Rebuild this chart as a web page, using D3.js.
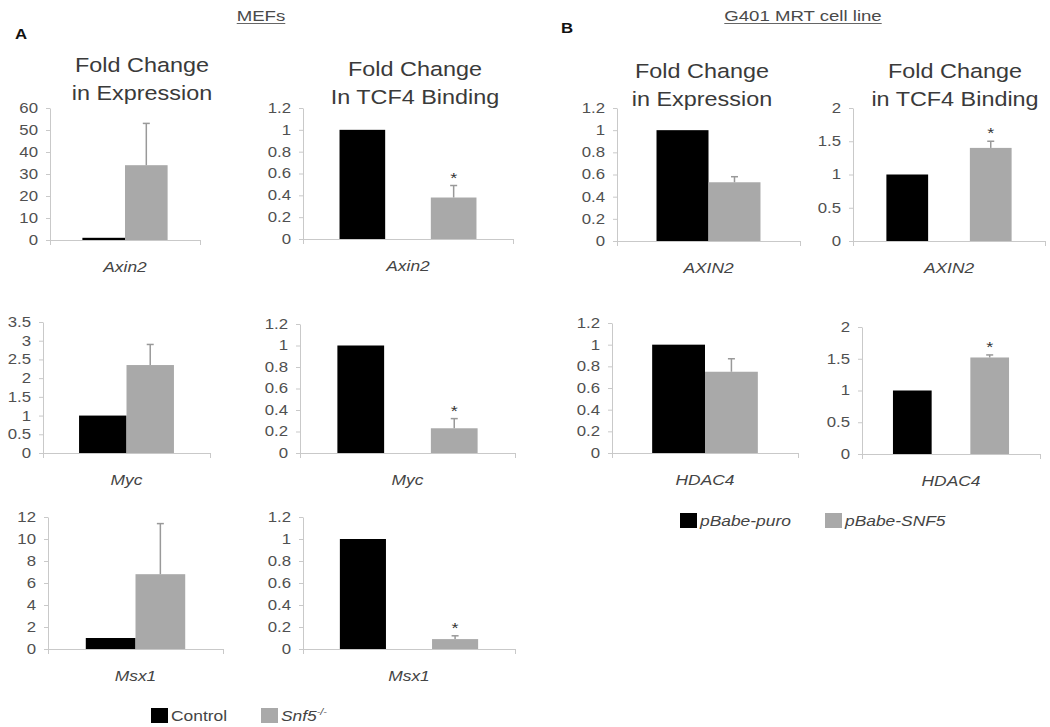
<!DOCTYPE html>
<html>
<head>
<meta charset="utf-8">
<script src="https://cdn.jsdelivr.net/npm/d3@7"></script>
<style>
  html, body { margin: 0; padding: 0; background: #fff; }
  svg { display: block; font-family: "Liberation Sans", Arial, sans-serif; }
</style>
</head>
<body>
<svg id="chart" width="1050" height="727"></svg>
<script>
// ---------- DATA ----------
const mefGenes = ["Axin2", "Myc", "Msx1"];
const mefExprControl = [1, 1, 1];
const mefExprSnf5 = [34, 2.35, 6.8];
const mefExprSnf5Err = [19, 0.55, 4.6];
const mefExprTickMax = [60, 3.5, 12];
const mefExprTickStep = [10, 0.5, 2];

const mefTcfControl = [1, 1, 1];
const mefTcfSnf5 = [0.38, 0.23, 0.09];
const mefTcfSnf5Err = [0.11, 0.09, 0.03];
const mefTcfSig = [true, true, true];
const mefTcfTickMax = [1.2, 1.2, 1.2];
const mefTcfTickStep = [0.2, 0.2, 0.2];

const g401Genes = ["AXIN2", "HDAC4"];
const g401ExprControl = [1, 1];
const g401ExprSnf5 = [0.53, 0.75];
const g401ExprSnf5Err = [0.05, 0.12];
const g401ExprTickMax = [1.2, 1.2];
const g401ExprTickStep = [0.2, 0.2];

const g401TcfControl = [1, 1];
const g401TcfSnf5 = [1.4, 1.52];
const g401TcfSnf5Err = [0.1, 0.04];
const g401TcfSig = [true, true];
const g401TcfTickMax = [2, 2];
const g401TcfTickStep = [0.5, 0.5];

const titleExpr = ["Fold Change", "in Expression"];
const titleTcfMef = ["Fold Change", "In TCF4 Binding"];
const titleTcfG401 = ["Fold Change", "in TCF4 Binding"];
const legendMef = ["Control", "Snf5"];
const legendG401 = ["pBabe-puro", "pBabe-SNF5"];

// ---------- STYLE ----------
const SX = 1.2;                  // horizontal stretch of the original figure's text
const BLACK = "#000000";
const GRAY = "#a9a9a9";
const AXIS = "#c9c9c9";
const TEXT = "#505050";

const svg = d3.select("#chart");

function txt(x, y, str, o = {}) {
  return svg.append("text")
    .attr("transform", `translate(${x},${y}) scale(${SX},1)`)
    .attr("text-anchor", o.anchor || "middle")
    .attr("font-size", o.size || 14)
    .attr("font-style", o.italic ? "italic" : null)
    .attr("font-weight", o.bold ? "bold" : null)
    .attr("fill", o.color || TEXT)
    .text(str);
}

function fmt(d) { return String(+d.toFixed(2)); }

function drawPanel(p) {
  const y = d3.scaleLinear().domain([0, p.max]).range([p.bot, p.top]);
  const x = d3.scaleBand().domain(["ctrl", "trt"]).range([p.x0, p.x1])
    .paddingInner(p.pi).paddingOuter(p.po);
  const bw = x.bandwidth();

  const g = svg.append("g");
  const ax = d3.axisLeft(y)
    .tickValues(d3.range(0, p.max + p.step / 2, p.step))
    .tickSize(4).tickSizeOuter(0).tickPadding(8).tickFormat(fmt);
  const axG = g.append("g").attr("transform", `translate(${p.x0},0)`).call(ax)
    .attr("font-size", 14).attr("font-family", null);
  axG.select(".domain").attr("stroke", AXIS);
  axG.selectAll(".tick line").attr("stroke", AXIS);
  axG.selectAll(".tick text").attr("fill", TEXT)
    .attr("x", -12 / SX).attr("transform", `scale(${SX},1)`);

  // category axis
  g.append("line").attr("x1", p.x0 - 4).attr("x2", p.x1).attr("y1", y(0) + 0.5).attr("y2", y(0) + 0.5)
    .attr("stroke", AXIS);
  [p.x0, p.x1].forEach(xx => g.append("line").attr("x1", xx + 0.5).attr("x2", xx + 0.5)
    .attr("y1", y(0)).attr("y2", y(0) + 5).attr("stroke", AXIS));

  const bars = [{ k: "ctrl", v: p.ctrl, c: BLACK }, { k: "trt", v: p.trt, c: GRAY }];
  g.selectAll("rect.bar").data(bars).enter().append("rect")
    .attr("x", d => x(d.k)).attr("width", bw)
    .attr("y", d => y(d.v)).attr("height", d => y(0) - y(d.v))
    .attr("fill", d => d.c);

  // error bar
  const cx = x("trt") + bw / 2;
  const eTop = y(p.trt + p.err);
  g.append("line").attr("x1", cx).attr("x2", cx).attr("y1", y(p.trt)).attr("y2", eTop)
    .attr("stroke", "#999").attr("stroke-width", 1.5);
  g.append("line").attr("x1", cx - 3.5).attr("x2", cx + 3.5).attr("y1", eTop).attr("y2", eTop)
    .attr("stroke", "#999").attr("stroke-width", 1.5);
  if (p.sig) {
    txt(cx, eTop - 3, "*", { size: 15, color: "#333" });
  }

  const mid = (x("ctrl") + x("trt") + bw) / 2;
  txt(mid, p.bot + 32, p.gene, { size: 14.5, italic: true, color: "#444" });

  if (p.title) {
    txt(p.tx, p.ty, p.title[0], { size: 19.5, color: "#3a3a3a" });
    txt(p.tx, p.ty + 28, p.title[1], { size: 19.5, color: "#3a3a3a" });
  }
}

const EXPR = { pi: 0, po: 0.76 };
const TCF = { pi: 0.5, po: 0.4 };

// MEF panels
const mefExprGeom = [
  { x0: 50, x1: 200, top: 108, bot: 240 },
  { x0: 43, x1: 210, top: 322, bot: 453 },
  { x0: 48, x1: 223, top: 517, bot: 649 }
];
const mefTcfGeom = [
  { x0: 303, x1: 513, top: 108, bot: 239 },
  { x0: 300, x1: 515, top: 324, bot: 453 },
  { x0: 303, x1: 515, top: 517, bot: 649 }
];
mefGenes.forEach((gene, i) => {
  drawPanel(Object.assign({}, EXPR, mefExprGeom[i], {
    max: mefExprTickMax[i], step: mefExprTickStep[i],
    ctrl: mefExprControl[i], trt: mefExprSnf5[i], err: mefExprSnf5Err[i],
    sig: false, gene,
    title: i === 0 ? titleExpr : null, tx: 142, ty: 72
  }));
  drawPanel(Object.assign({}, TCF, mefTcfGeom[i], {
    max: mefTcfTickMax[i], step: mefTcfTickStep[i],
    ctrl: mefTcfControl[i], trt: mefTcfSnf5[i], err: mefTcfSnf5Err[i],
    sig: mefTcfSig[i], gene,
    title: i === 0 ? titleTcfMef : null, tx: 415, ty: 76
  }));
});

// G401 panels
const g401ExprGeom = [
  { x0: 617, x1: 800, top: 108, bot: 241 },
  { x0: 612, x1: 798, top: 323, bot: 453 }
];
const g401TcfGeom = [
  { x0: 853, x1: 1045, top: 108, bot: 241 },
  { x0: 862, x1: 1040, top: 327, bot: 454 }
];
g401Genes.forEach((gene, i) => {
  drawPanel(Object.assign({}, EXPR, g401ExprGeom[i], {
    max: g401ExprTickMax[i], step: g401ExprTickStep[i],
    ctrl: g401ExprControl[i], trt: g401ExprSnf5[i], err: g401ExprSnf5Err[i],
    sig: false, gene,
    title: i === 0 ? titleExpr : null, tx: 702, ty: 78
  }));
  drawPanel(Object.assign({}, TCF, g401TcfGeom[i], {
    max: g401TcfTickMax[i], step: g401TcfTickStep[i],
    ctrl: g401TcfControl[i], trt: g401TcfSnf5[i], err: g401TcfSnf5Err[i],
    sig: g401TcfSig[i], gene,
    title: i === 0 ? titleTcfG401 : null, tx: 955, ty: 78
  }));
});

// headers
function header(cx, y, str) {
  const t = txt(cx, y, str, { size: 15.5, color: "#4a4a4a" });
  const w = t.node().getComputedTextLength() * SX;
  svg.append("line").attr("x1", cx - w / 2).attr("x2", cx + w / 2)
    .attr("y1", y + 2.5).attr("y2", y + 2.5).attr("stroke", "#666").attr("stroke-width", 1.2);
}
header(261, 21, "MEFs");
header(803, 21, "G401 MRT cell line");
txt(15, 39, "A", { size: 14, bold: true, anchor: "start", color: "#111" });
txt(561, 33, "B", { size: 14, bold: true, anchor: "start", color: "#111" });

// legends
function legendItem(x, y, color, label, italic, sup) {
  svg.append("rect").attr("x", x).attr("y", y).attr("width", 17).attr("height", 15).attr("fill", color);
  const t = txt(x + 20, y + 13, label, { size: 14.5, anchor: "start", italic, color: "#444" });
  if (sup) {
    t.append("tspan").attr("font-size", 9).attr("dy", -6).text(sup);
  }
}
legendItem(151, 708, BLACK, legendMef[0], false);
legendItem(261, 708, GRAY, legendMef[1], true, "-/-");
legendItem(680, 513, BLACK, legendG401[0], true);
legendItem(825, 513, GRAY, legendG401[1], true);
</script>
</body>
</html>
